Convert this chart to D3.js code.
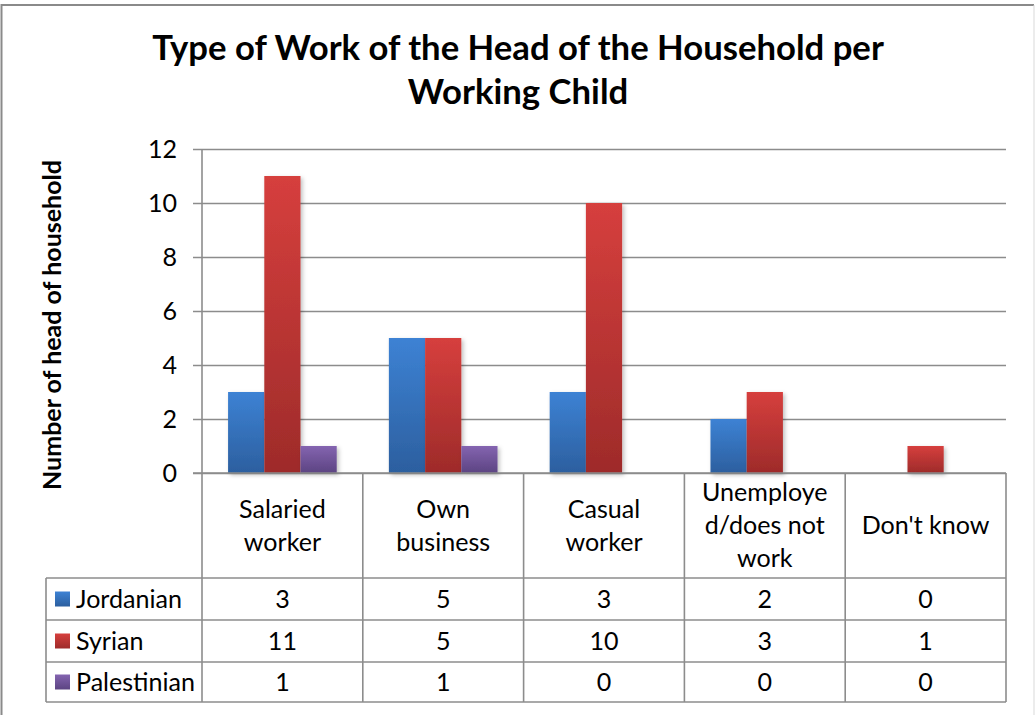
<!DOCTYPE html>
<html><head><meta charset="utf-8">
<script src="https://cdn.jsdelivr.net/npm/d3@7"></script>
<style>body{margin:0;background:#fff} svg{display:block}</style>
</head><body>
<svg id="c" width="1035" height="715"></svg>
<script>
// ---- data ----
const categories = ["Salaried worker", "Own business", "Casual worker", "Unemployed/does not work", "Don't know"];
const categoryLines = [["Salaried","worker"],["Own","business"],["Casual","worker"],["Unemploye","d/does not","work"],["Don't know"]];
const seriesNames = ["Jordanian", "Syrian", "Palestinian"];
const jordanian = [3, 5, 3, 2, 0];
const syrian = [11, 5, 10, 3, 1];
const palestinian = [1, 1, 0, 0, 0];
const yTicks = [0, 2, 4, 6, 8, 10, 12];
const titleLines = ["Type of Work of the Head of the Household per", "Working Child"];
const yTitle = "Number of head of household";

const seriesValues = [jordanian, syrian, palestinian];
const colors = [
  {top:"#3d82d4", bot:"#2c5f9f"},
  {top:"#d63f3d", bot:"#9e2b2a"},
  {top:"#8464b0", bot:"#5c4482"}
];
const FONT = "Lato, 'Open Sans', sans-serif";

const svg = d3.select("#c");
const defs = svg.append("defs");
colors.forEach((c,i)=>{
  const g = defs.append("linearGradient").attr("id","g"+i).attr("x1",0).attr("y1",0).attr("x2",0).attr("y2",1);
  g.append("stop").attr("offset","0%").attr("stop-color",c.top);
  g.append("stop").attr("offset","100%").attr("stop-color",c.bot);
});
const f = defs.append("filter").attr("id","sh").attr("x","-20%").attr("y","-20%").attr("width","150%").attr("height","150%");
f.append("feDropShadow").attr("dx",2).attr("dy",2).attr("stdDeviation",2).attr("flood-color","#000").attr("flood-opacity",0.25);

// outer border
svg.append("line").attr("x1",1).attr("x2",1034).attr("y1",5).attr("y2",5).attr("stroke","#8a8a8a").attr("stroke-width",2);
svg.append("line").attr("x1",1.5).attr("x2",1.5).attr("y1",4).attr("y2",715).attr("stroke","#8a8a8a").attr("stroke-width",2);
svg.append("line").attr("x1",1034).attr("x2",1034).attr("y1",5).attr("y2",715).attr("stroke","#d9d9d9").attr("stroke-width",1);

// scales
const left = 202, right = 1006;
const y = d3.scaleLinear().domain([0, 12]).range([473, 149]);
const x0 = d3.scaleBand().domain(categories).range([left, right]).padding(0);
const x1 = d3.scaleBand().domain(seriesNames).range([0, x0.bandwidth()]).paddingInner(0).paddingOuter(0.72);

const gridColor = "#8c8c8c";
// gridlines + ticks
const yAxis = d3.axisLeft(y).tickValues(yTicks).tickSize(-(right - left)).tickFormat("");
const ga = svg.append("g").attr("transform",`translate(${left},0)`).call(yAxis);
ga.select(".domain").remove();
ga.selectAll(".tick line").attr("stroke",gridColor).attr("stroke-width",1.6).attr("x1",-9);

// fit helper
function fitWidth(sel, target){
  const w = sel.node().getComputedTextLength();
  const fs = parseFloat(sel.attr("font-size"));
  sel.attr("font-size", fs * target / w);
  return fs * target / w;
}

// calibrate body font size
const probe = svg.append("text").attr("font-family",FONT).attr("font-size",20).text("Jordanian");
const BODY = 20 * 106 / probe.node().getComputedTextLength();
probe.remove();

// tick labels
svg.append("g").selectAll("text").data(yTicks).join("text")
  .attr("x",177).attr("y",d=>y(d)).attr("dy","0.35em").attr("text-anchor","end")
  .attr("font-family",FONT).attr("font-size",BODY).attr("fill","#000").text(d=>d);

// bars
const barsG = svg.append("g");
seriesNames.forEach((s,si)=>{
  barsG.append("g").selectAll("rect").data(seriesValues[si].map((v,ci)=>({v,c:categories[ci]})).filter(d=>d.v>0)).join("rect")
    .attr("x",d=>x0(d.c)+x1(s)).attr("width",x1.bandwidth())
    .attr("y",d=>y(d.v)).attr("height",d=>y(0)-y(d.v))
    .attr("fill",`url(#g${si})`).attr("filter","url(#sh)");
});

// table
const tableLeft = 46, headerBottom = 578;
const rowEdges = [578, 620, 662, 702];
const lineAttrs = s=>s.attr("stroke",gridColor).attr("stroke-width",1.6);
// zero line redraw on top of bars
svg.append("line").attr("x1",193).attr("x2",right).attr("y1",y(0)).attr("y2",y(0)).call(lineAttrs);
// axis line
svg.append("line").attr("x1",left).attr("x2",left).attr("y1",y(12)).attr("y2",rowEdges[3]).call(lineAttrs);
// category dividers
categories.forEach(c=>{
  const xr = x0(c)+x0.bandwidth();
  svg.append("line").attr("x1",xr).attr("x2",xr).attr("y1",y(0)).attr("y2",rowEdges[3]).call(lineAttrs);
});
rowEdges.forEach(ry=>{
  svg.append("line").attr("x1",tableLeft).attr("x2",right).attr("y1",ry).attr("y2",ry).call(lineAttrs);
});
svg.append("line").attr("x1",tableLeft).attr("x2",tableLeft).attr("y1",rowEdges[0]).attr("y2",rowEdges[3]).call(lineAttrs);

// category labels
const headerMid = (y(0)+headerBottom)/2;
const lh = 33;
categories.forEach((c,ci)=>{
  const lines = categoryLines[ci];
  const cx = x0(c)+x0.bandwidth()/2;
  const t = svg.append("text").attr("font-family",FONT).attr("font-size",BODY).attr("text-anchor","middle").attr("fill","#000");
  lines.forEach((ln,li)=>{
    t.append("tspan").attr("x",cx).attr("y",headerMid + (li-(lines.length-1)/2)*lh).attr("dy","0.35em").text(ln);
  });
});

// rows
seriesNames.forEach((s,si)=>{
  const cy = (rowEdges[si]+rowEdges[si+1])/2;
  svg.append("rect").attr("x",55).attr("y",cy-7.5).attr("width",15).attr("height",15).attr("fill",`url(#g${si})`);
  svg.append("text").attr("x",76).attr("y",cy).attr("dy","0.35em").attr("font-family",FONT).attr("font-size",BODY).attr("fill","#000").text(s);
  svg.append("g").selectAll("text").data(seriesValues[si]).join("text")
    .attr("x",(d,ci)=>x0(categories[ci])+x0.bandwidth()/2).attr("y",cy).attr("dy","0.35em")
    .attr("text-anchor","middle").attr("font-family",FONT).attr("font-size",BODY).attr("fill","#000").text(d=>d);
});

// title
const t1 = svg.append("text").attr("x",518).attr("y",60).attr("text-anchor","middle").attr("font-family",FONT).attr("font-weight","bold").attr("font-size",30).attr("fill","#000").text(titleLines[0]);
const tfs = fitWidth(t1, 732);
svg.append("text").attr("x",518).attr("y",104).attr("text-anchor","middle").attr("font-family",FONT).attr("font-weight","bold").attr("font-size",tfs).attr("fill","#000").text(titleLines[1]);

// y title
const yt = svg.append("text").attr("transform","translate(61,325) rotate(-90)").attr("text-anchor","middle")
  .attr("font-family",FONT).attr("font-weight","bold").attr("font-size",19).attr("fill","#000").text(yTitle);
fitWidth(yt, 330);
</script>
</body></html>
